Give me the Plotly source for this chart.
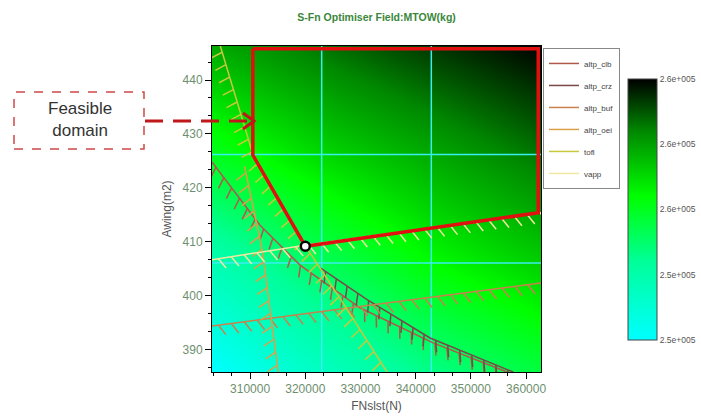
import numpy as np
import plotly.graph_objects as go

# axis window
fn_range = [303100, 362700]      # FNslst (N)
aw_range = [385.9, 446.3]        # Awing (m2)

# MTOW field nodes (kg), rows = Awing from bottom to top
field_fn = [303100, 322970, 342830, 362700]
field_aw = [385.9, 406.0, 426.2, 446.3]
field_mtow = [
    [252000, 253800, 255300, 256500],
    [254200, 256000, 257500, 258500],
    [257000, 258300, 259300, 260300],
    [259300, 260300, 261200, 262000],
]
cbar_vals = [252000, 254500, 257000, 259500, 262000]
cbar_text = ['2.5e+005', '2.5e+005', '2.6e+005', '2.6e+005', '2.6e+005']

# cyan grid lines
grid_fn = [322970, 342830]
grid_aw = [406.1, 426.2]

# constraint curves
clb_fn = [303100, 311800, 319050, 329900, 343150, 356550]
clb_aw = [424.8, 413.1, 405.7, 397.8, 391.3, 385.9]
crz_fn = [322700, 331200, 342600, 357650]
crz_aw = [405.2, 399.3, 392.2, 385.9]
buf_fn = [303100, 325000, 362700]
buf_aw = [394.4, 397.4, 402.4]
oei_fn = [309000, 312200, 315100]
oei_aw = [424.0, 408.5, 385.9]
tofl_fn = [304600, 310550, 319950, 327200, 334800]
tofl_aw = [446.3, 426.1, 409.4, 398.1, 385.9]
vapp_fn = [303100, 319950, 362700]
vapp_aw = [406.7, 409.4, 415.4]

# feasible domain and optimum
feas_fn = [310500, 310500, 320000, 362200, 362200, 310500]
feas_aw = [445.8, 426.1, 409.2, 415.4, 445.8, 445.8]
opt_fn = [320000]
opt_aw = [409.2]

# plot area size in pixels (for hatch geometry)
PW, PH = 329.0, 326.0
sx = PW / (fn_range[1] - fn_range[0])
sy = PH / (aw_range[1] - aw_range[0])


def hatched(fn, aw, side, skew, step=13.0, length=12.0):
    u = (np.array(fn, float) - fn_range[0]) * sx
    v = (np.array(aw, float) - aw_range[0]) * sy
    seg = np.hypot(np.diff(u), np.diff(v))
    cum = np.concatenate([[0], np.cumsum(seg)])
    xs, ys = list(fn), list(aw)
    for s in np.arange(step / 2, cum[-1], step):
        i = min(max(np.searchsorted(cum, s) - 1, 0), len(seg) - 1)
        f = (s - cum[i]) / seg[i]
        pu = u[i] + f * (u[i + 1] - u[i])
        pv = v[i] + f * (v[i + 1] - v[i])
        tu, tv = (u[i + 1] - u[i]) / seg[i], (v[i + 1] - v[i]) / seg[i]
        du, dv = side * tv + skew * tu, -side * tu + skew * tv
        d = np.hypot(du, dv)
        eu, ev = pu + length * du / d, pv + length * dv / d
        xs += [None, pu / sx + fn_range[0], eu / sx + fn_range[0]]
        ys += [None, pv / sy + aw_range[0], ev / sy + aw_range[0]]
    return xs, ys


fig = go.Figure()

fig.add_trace(go.Heatmap(
    x=field_fn, y=field_aw, z=field_mtow, zsmooth='best',
    zmin=cbar_vals[0], zmax=cbar_vals[-1],
    colorscale=[[0, '#00ffff'], [0.3, '#00ff99'], [0.55, '#00ff00'],
                [0.8, '#008800'], [1, '#000000']],
    hoverinfo='skip',
    colorbar=dict(x=1.2644, xanchor='left', xpad=0, ypad=0,
                  y=0.4985, yanchor='middle', len=0.8006, lenmode='fraction',
                  thickness=29, outlinecolor='#444', outlinewidth=1,
                  tickvals=cbar_vals, ticktext=cbar_text, ticks='',
                  tickfont=dict(size=8.5, color='#555')),
))

# grid lines
gx, gy = [], []
for v in grid_fn:
    gx += [v, v, None]
    gy += [aw_range[0], aw_range[1], None]
for v in grid_aw:
    gx += [fn_range[0], fn_range[1], None]
    gy += [v, v, None]
fig.add_trace(go.Scatter(x=gx, y=gy, mode='lines', showlegend=False, hoverinfo='skip',
                         line=dict(color='#38eef0', width=1.5)))

constraints = [
    ('altp_clb', clb_fn, clb_aw, '#b0584a', 1, 0.5),
    ('altp_crz', crz_fn, crz_aw, '#7a4848', 1, 0.5),
    ('altp_buf', buf_fn, buf_aw, '#c8804e', 1, 0.6),
    ('altp_oei', oei_fn, oei_aw, '#dca04a', 1, 0.5),
    ('tofl', tofl_fn, tofl_aw, '#c8c83c', 1, 0.2),
    ('vapp', vapp_fn, vapp_aw, '#eee8a0', 1, 0.6),
]
for name, fn, aw, col, side, skew in constraints:
    hx, hy = hatched(fn, aw, side, skew)
    fig.add_trace(go.Scatter(x=hx, y=hy, mode='lines', name=name, legendgroup=name,
                             line=dict(color=col, width=1.5), hoverinfo='skip'))

fig.add_trace(go.Scatter(x=feas_fn, y=feas_aw, mode='lines', showlegend=False,
                         line=dict(color='#e01010', width=3.5), hoverinfo='skip'))
fig.add_trace(go.Scatter(x=opt_fn, y=opt_aw, mode='markers', showlegend=False,
                         marker=dict(size=9, color='white', line=dict(color='black', width=2.5))))

axis_common = dict(showline=True, linecolor='black', linewidth=1, mirror=True,
                   ticks='outside', ticklen=6, tickcolor='black', showgrid=False,
                   zeroline=False, tickfont=dict(size=12, color='#6e8f6e'))

fig.update_layout(
    width=701, height=419,
    margin=dict(l=212, r=160, t=46, b=47, autoexpand=False),
    paper_bgcolor='white', plot_bgcolor='white',
    font=dict(family='Liberation Sans, Arial, sans-serif'),
    title=dict(text='<b>S-Fn Optimiser Field:MTOW(kg)</b>', x=0.5372, xanchor='center',
               y=0.959, yanchor='middle', font=dict(size=10.5, color='#3a873a')),
    xaxis=dict(range=fn_range, tickvals=[310000, 320000, 330000, 340000, 350000, 360000],
               tickformat='d',
               minor=dict(tick0=310000, dtick=10000 / 3, ticks='outside', ticklen=3, tickcolor='black'),
               title=dict(text='FNslst(N)', font=dict(size=12, color='#555'), standoff=6),
               **axis_common),
    yaxis=dict(range=aw_range, tickvals=[390, 400, 410, 420, 430, 440],
               minor=dict(tick0=390, dtick=10 / 3, ticks='outside', ticklen=3, tickcolor='black'),
               title=dict(text='Awing(m2)', font=dict(size=12, color='#555'), standoff=8),
               **axis_common),
    legend=dict(x=1.006, y=0.994, xanchor='left', yanchor='top', bgcolor='white',
                bordercolor='#888', borderwidth=1, tracegroupgap=3,
                font=dict(size=8, color='#444')),
    shapes=[
        dict(type='rect', xref='paper', yref='paper', x0=-0.6018, x1=-0.2067, y0=0.684, y1=0.859,
             line=dict(color='#d04848', width=1.5, dash='dash')),
        dict(type='line', xref='paper', yref='paper', x0=-0.2036, x1=0.118, y0=0.770, y1=0.770,
             line=dict(color='#c01818', width=3, dash='18px,10px')),
        dict(type='path', xref='paper', yref='paper',
             path='M 0.0942 0.7945 L 0.1277 0.7699 L 0.0942 0.7454',
             line=dict(color='#c01818', width=3)),
    ],
    annotations=[
        dict(xref='paper', yref='paper', x=-0.401, y=0.776, xanchor='center', yanchor='middle',
             text='Feasible<br>domain', showarrow=False, font=dict(size=17, color='#333')),
    ],
)

# drop the default page margin so the figure sits at the window origin
fig.write_html('out.html', config={'displayModeBar': False},
               post_script="document.body.style.margin='0px';")
